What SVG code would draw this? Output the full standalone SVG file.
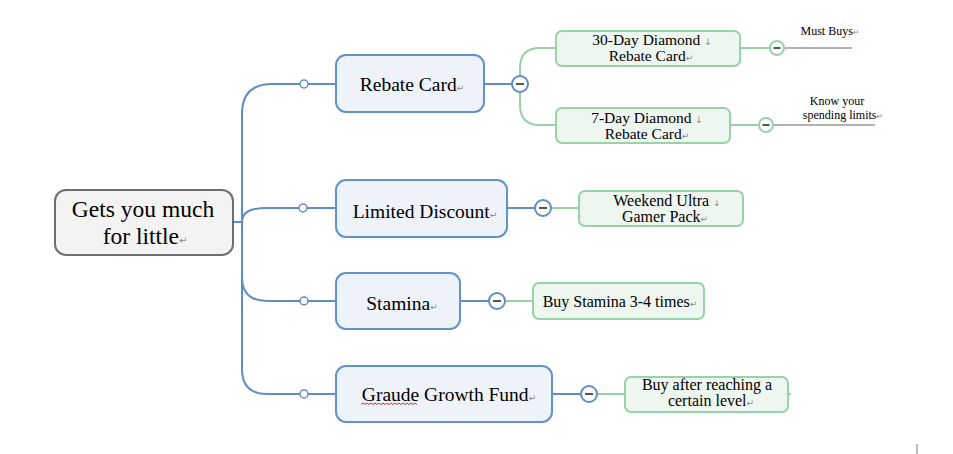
<svg xmlns="http://www.w3.org/2000/svg" width="953" height="454" viewBox="0 0 953 454">
<style>
text{fill:#000;text-anchor:middle}
.root{fill:#f3f3f3;stroke:#6e6e6e;stroke-width:2}
.main{fill:#eef3fa;stroke:#6391c9;stroke-width:2}
.sub{fill:#eef6f0;stroke:#98d2a8;stroke-width:2}
.bl{fill:none;stroke:#5f8dc7;stroke-width:2}
.gl{fill:none;stroke:#98d2a8;stroke-width:2}
.gy{fill:none;stroke:#9a9a9a;stroke-width:1.5}
.knob{fill:#fff;stroke:#5f8dc7;stroke-width:1.5}
.mb{fill:#fff;stroke:#5f8dc7;stroke-width:2}
.mg{fill:#fff;stroke:#98d2a8;stroke-width:2}
.minus{stroke:#555;stroke-width:2}
.m{fill:#8a8a8a}
.t1{font-size:23.5px}.t2{font-size:19.5px}.t3{font-size:16px}.t3s{font-size:15.5px}.t4{font-size:12px}
</style>
<g id="connectors">
<path class="bl" d="M233,222 H242"/>
<path class="bl" d="M242,222 V114 Q242,84 272,84 H336"/>
<path class="bl" d="M242,222 C242,212 250,208 268,208 H336"/>
<path class="bl" d="M242,222 V277 Q242,301 267,301 H336"/>
<path class="bl" d="M242,222 V369 Q242,394 267,394 H336"/>
<circle class="knob" cx="304" cy="84" r="4"/>
<circle class="knob" cx="303" cy="208" r="4"/>
<circle class="knob" cx="304" cy="301" r="4"/>
<circle class="knob" cx="304" cy="394" r="4"/>
<path class="bl" d="M484,84 H512"/>
<path class="bl" d="M507,208 H535"/>
<path class="bl" d="M460,301 H489"/>
<path class="bl" d="M552,394 H581"/>
<path class="gl" d="M556,48 H540 Q520,48 520,68 V105 Q520,125 540,125 H556"/>
<path class="gl" d="M551,208 H579"/>
<path class="gl" d="M505,301 H533"/>
<path class="gl" d="M597,394 H625"/>
<path class="gl" d="M788,394 H791"/>
<path class="gl" d="M740,48 H770"/>
<path class="gl" d="M730,125 H759"/>
<path class="gy" d="M784,48 H852"/>
<path class="gy" d="M773,125 H875"/>
<g><circle class="mb" cx="520" cy="84" r="8"/><path class="minus" d="M516,84 H524"/></g>
<g><circle class="mb" cx="543" cy="208" r="8"/><path class="minus" d="M539,208 H547"/></g>
<g><circle class="mb" cx="497" cy="301" r="8"/><path class="minus" d="M493,301 H501"/></g>
<g><circle class="mb" cx="589" cy="394" r="8"/><path class="minus" d="M585,394 H593"/></g>
<g><circle class="mg" cx="777" cy="48" r="7"/><path class="minus" d="M773.5,48 H780.5"/></g>
<g><circle class="mg" cx="766" cy="125" r="7"/><path class="minus" d="M762.5,125 H769.5"/></g>
</g>
<g font-family="Liberation Serif, Times New Roman, serif">
<g id="root">
<rect class="root" x="55" y="190" width="178" height="65" rx="11"/>
<text class="t1" x="143" y="217">Gets you much</text>
<text class="t1" x="145" y="244">for little<tspan class="m" font-size="10" font-family="DejaVu Sans, sans-serif">↵</tspan></text>
</g>
<g id="rebate-card">
<rect class="main" x="336" y="55" width="148" height="57" rx="10"/>
<text class="t2" x="412" y="91">Rebate Card<tspan class="m" font-size="9" font-family="DejaVu Sans, sans-serif">↵</tspan></text>
</g>
<g id="limited-discount">
<rect class="main" x="336" y="180" width="171" height="57" rx="10"/>
<text class="t2" x="425" y="218">Limited Discount<tspan class="m" font-size="9" font-family="DejaVu Sans, sans-serif">↵</tspan></text>
</g>
<g id="stamina">
<rect class="main" x="336" y="273" width="124" height="56" rx="10"/>
<text class="t2" x="402" y="310">Stamina<tspan class="m" font-size="9" font-family="DejaVu Sans, sans-serif">↵</tspan></text>
</g>
<g id="growth-fund">
<rect class="main" x="336" y="366" width="216" height="56" rx="10"/>
<text class="t2" x="449" y="401">Graude Growth Fund<tspan class="m" font-size="9" font-family="DejaVu Sans, sans-serif">↵</tspan></text>
<path d="M361,404.5 l2,-1.5 l2,1.5 l2,-1.5 l2,1.5 l2,-1.5 l2,1.5 l2,-1.5 l2,1.5 l2,-1.5 l2,1.5 l2,-1.5 l2,1.5 l2,-1.5 l2,1.5 l2,-1.5 l2,1.5 l2,-1.5 l2,1.5 l2,-1.5 l2,1.5 l2,-1.5 l2,1.5 l2,-1.5 l2,1.5 l2,-1.5 l2,1.5 l2,-1.5 l2,1.5" fill="none" stroke="#e03030" stroke-width="1"/>
</g>
<g id="diamond-30">
<rect class="sub" x="556" y="31" width="184" height="35" rx="6"/>
<text class="t3s" x="652" y="44.5">30-Day Diamond <tspan class="m" font-size="9" font-family="DejaVu Sans, sans-serif">↓</tspan></text>
<text class="t3s" x="651" y="60.5">Rebate Card<tspan class="m" font-size="9" font-family="DejaVu Sans, sans-serif">↵</tspan></text>
</g>
<g id="diamond-7">
<rect class="sub" x="556" y="108" width="174" height="35" rx="6"/>
<text class="t3s" x="647" y="122.5">7-Day Diamond <tspan class="m" font-size="9" font-family="DejaVu Sans, sans-serif">↓</tspan></text>
<text class="t3s" x="647" y="138.5">Rebate Card<tspan class="m" font-size="9" font-family="DejaVu Sans, sans-serif">↵</tspan></text>
</g>
<g id="weekend-pack">
<rect class="sub" x="579" y="191" width="164" height="35" rx="6"/>
<text class="t3" x="667" y="206">Weekend Ultra <tspan class="m" font-size="9" font-family="DejaVu Sans, sans-serif">↓</tspan></text>
<text class="t3" x="665" y="222">Gamer Pack<tspan class="m" font-size="9" font-family="DejaVu Sans, sans-serif">↵</tspan></text>
</g>
<g id="buy-stamina">
<rect class="sub" x="533" y="283" width="171" height="36" rx="6"/>
<text class="t3" x="620" y="307">Buy Stamina 3-4 times<tspan class="m" font-size="9" font-family="DejaVu Sans, sans-serif">↵</tspan></text>
</g>
<g id="buy-after">
<rect class="sub" x="625" y="377" width="163" height="35" rx="6"/>
<text class="t3" x="707" y="390">Buy after reaching a</text>
<text class="t3" x="711" y="406">certain level<tspan class="m" font-size="9" font-family="DejaVu Sans, sans-serif">↵</tspan></text>
</g>
<g id="must-buys">
<text class="t4" x="830" y="35">Must Buys<tspan class="m" font-size="8" font-family="DejaVu Sans, sans-serif">↵</tspan></text>
</g>
<g id="spending-limits">
<text class="t4" x="837" y="105">Know your</text>
<text class="t4" x="843" y="119">spending limits<tspan class="m" font-size="8" font-family="DejaVu Sans, sans-serif">↵</tspan></text>
</g>
</g>
<path d="M917,444 V454" stroke="#777" stroke-width="1"/>
</svg>
